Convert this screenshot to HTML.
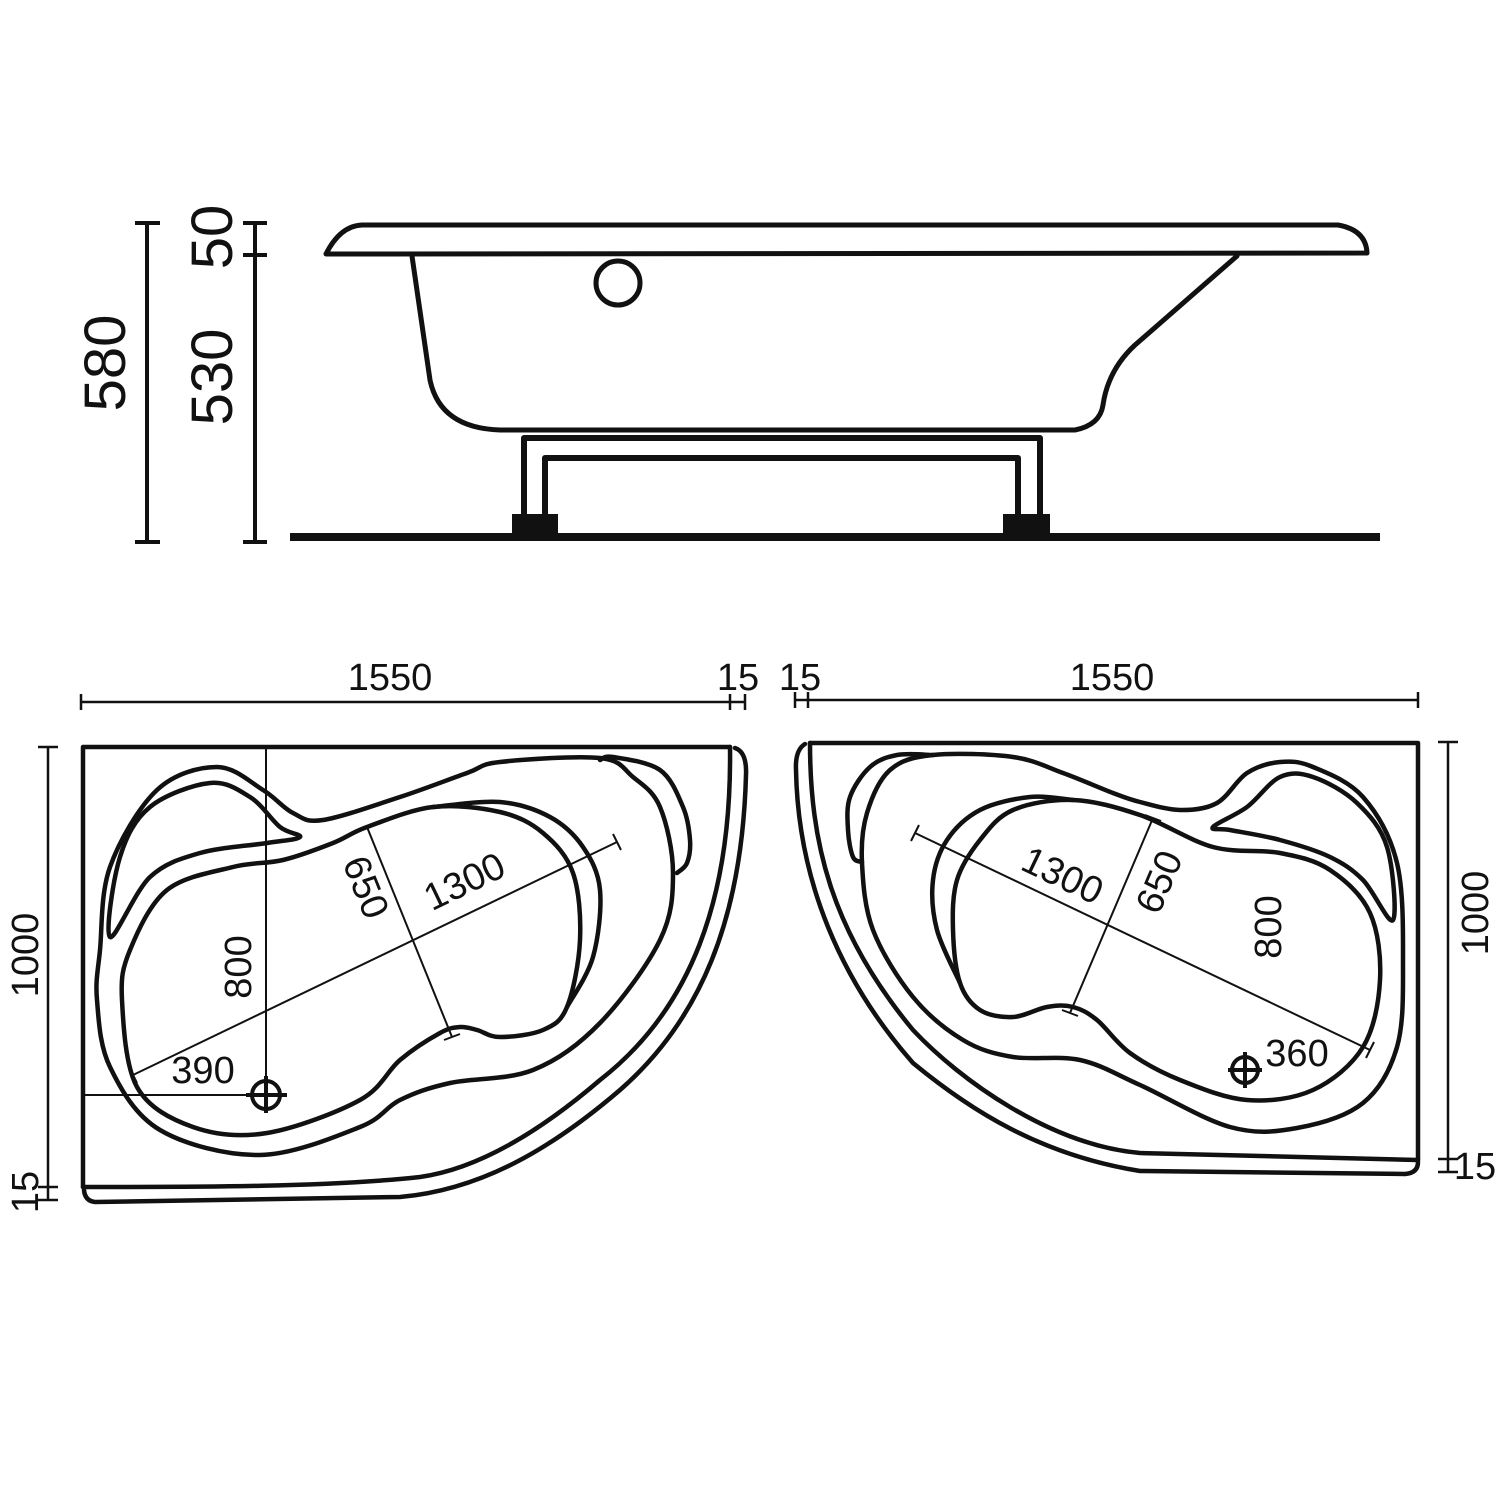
<!DOCTYPE html>
<html><head><meta charset="utf-8"><style>
html,body{margin:0;padding:0;background:#fff;}
svg{display:block}
text{font-family:"Liberation Sans",sans-serif;fill:#111;}
</style></head><body>
<svg id="s" width="1500" height="1500" viewBox="0 0 1500 1500" xmlns="http://www.w3.org/2000/svg">
<g fill="none" stroke="#111" stroke-width="5" stroke-linejoin="round" stroke-linecap="round">
<path d="M326,254 Q340,226 362,225 L1338,225 Q1366,230 1367,253 L326,254 Z"/>
<path d="M412,256 L430,380 Q440,428 500,430 L1075,430 Q1100,425 1103,405 Q1108,370 1135,345 L1237,256"/>
<circle cx="618" cy="283" r="22"/>
<path d="M524,518 L524,438 L1040,438 L1040,518" stroke-width="6"/>
<path d="M545,518 L545,458 L1018,458 L1018,518" stroke-width="6"/>
</g>
<g fill="#111">
<rect x="512" y="514" width="46" height="22"/>
<rect x="1003" y="514" width="47" height="22"/>
<rect x="290" y="533" width="1090" height="8"/>
</g>
<g stroke="#111" stroke-width="4" fill="none">
<path d="M147,223 L147,542 M135,223 L160,223 M135,542 L160,542"/>
<path d="M255,223 L255,542 M243,223 L267,223 M243,255 L267,255 M243,542 L267,542"/>
</g>
<text transform="translate(125,363) rotate(-90)" font-size="58" text-anchor="middle">580</text>
<text transform="translate(232,377) rotate(-90)" font-size="58" text-anchor="middle">530</text>
<text transform="translate(232,237) rotate(-90)" font-size="58" text-anchor="middle">50</text>

<g fill="none" stroke="#111" stroke-width="4.5" stroke-linecap="round" stroke-linejoin="round">
<path d="M83,1187 L83,747 L730,747"/>
<path d="M730,747 C732,900 690,1010 600,1080 C530,1140 470,1170 420,1177 C330,1187 200,1187 83,1187"/>
<path d="M735,748 Q747,752 746,775 C742,920 700,1020 620,1090 C550,1150 480,1190 400,1197 L95,1202 Q85,1201 84,1190"/>
<path d="M810,743 L1418,743 L1418,1160"/>
<path d="M810,743 C810,840 830,930 913,1030 C960,1080 1050,1145 1140,1153 L1418,1160"/>
<path d="M805,744 Q795,750 796,770 C798,880 840,980 913,1063 C970,1110 1040,1155 1140,1171 L1405,1174 Q1418,1173 1418,1162"/>
</g>
<g id="curves" fill="none" stroke="#111" stroke-width="4.5" stroke-linejoin="round" stroke-linecap="round"></g>

<g fill="none" stroke="#111" stroke-width="2">
<path d="M80,702 L745,702 M81,694 L81,710 M730,694 L730,710 M745,694 L745,710" stroke-width="2.5"/>
<path d="M48,747 L48,1200 M38,747 L58,747 M38,1187 L58,1187 M38,1200 L58,1200" stroke-width="2.5"/>
<path d="M133,1075 L617,842 M129,1067 L137,1083 M613,834 L621,850"/>
<path d="M367,827 L452,1037 M359,830 L375,824 M444,1040 L460,1034"/>
<path d="M266,747 L266,1113 M83,1095 L287,1095"/>
<circle cx="266" cy="1095" r="14" stroke-width="4"/>
<path d="M266,1076 L266,1113 M246,1095 L287,1095" stroke-width="4"/>
<path d="M795,700 L1418,700 M795,692 L795,708 M808,692 L808,708 M1418,692 L1418,708" stroke-width="2.5"/>
<path d="M1448,742 L1448,1172 M1438,742 L1458,742 M1438,1159 L1458,1159 M1438,1172 L1458,1172" stroke-width="2.5"/>
<path d="M915,833 L1370,1050 M919,825 L911,841 M1374,1042 L1366,1058"/>
<path d="M1153,818 L1070,1013 M1145,815 L1161,821 M1062,1010 L1078,1016"/>
<circle cx="1245" cy="1070" r="13" stroke-width="4"/>
<path d="M1245,1052 L1245,1088 M1228,1070 L1262,1070" stroke-width="4"/>
</g>
<g font-size="38">
<text x="390" y="690" text-anchor="middle">1550</text>
<text x="738" y="690" text-anchor="middle">15</text>
<text x="800" y="690" text-anchor="middle">15</text>
<text x="1112" y="690" text-anchor="middle">1550</text>
<text transform="translate(38,955) rotate(-90)" text-anchor="middle">1000</text>
<text transform="translate(38,1192) rotate(-90)" text-anchor="middle">15</text>
<text transform="translate(251,967) rotate(-90)" text-anchor="middle">800</text>
<text x="203" y="1083" text-anchor="middle">390</text>
<text transform="translate(354,892) rotate(68)" text-anchor="middle">650</text>
<text transform="translate(470,893) rotate(-25.7)" text-anchor="middle">1300</text>
<text transform="translate(1488,913) rotate(-90)" text-anchor="middle">1000</text>
<text x="1475" y="1179" text-anchor="middle">15</text>
<text transform="translate(1281,927) rotate(-90)" text-anchor="middle">800</text>
<text x="1297" y="1066" text-anchor="middle">360</text>
<text transform="translate(1171,887) rotate(-67)" text-anchor="middle">650</text>
<text transform="translate(1057,887) rotate(25.5)" text-anchor="middle">1300</text>
</g>
</svg>
<script>
function cr(p,closed){
  var n=p.length,d="M"+p[0][0]+","+p[0][1];
  var m=closed?n:n-1;
  for(var i=0;i<m;i++){
    var p0=p[(i-1+n)%n],p1=p[i],p2=p[(i+1)%n],p3=p[(i+2)%n];
    if(!closed){if(i==0)p0=p1;if(i+2>=n)p3=p2;}
    var c1=[p1[0]+(p2[0]-p0[0])/6,p1[1]+(p2[1]-p0[1])/6];
    var c2=[p2[0]-(p3[0]-p1[0])/6,p2[1]-(p3[1]-p1[1])/6];
    d+=" C"+c1[0].toFixed(1)+","+c1[1].toFixed(1)+" "+c2[0].toFixed(1)+","+c2[1].toFixed(1)+" "+p2[0]+","+p2[1];
  }
  if(closed)d+="Z";return d;
}
var shapes=[
 [[[100,950],[110,867],[157,790],[217,767],[263,790],[293,813],[323,820],[400,797],[467,773],[500,762],[600,758],[633,777],[660,807],[673,873],[660,940],[600,1023],[533,1070],[450,1083],[400,1100],[360,1127],[260,1155],[160,1130],[110,1067],[97,1000]],1],
 [[[110,937],[120,857],[150,807],[210,783],[250,797],[280,827],[300,837],[267,843],[200,853],[150,877]],1],
 [[[130,950],[167,890],[233,867],[283,860],[333,843],[367,827],[433,807],[500,812],[543,833],[573,873],[580,940],[567,1007],[543,1030],[500,1037],[477,1030],[460,1027],[440,1033],[400,1060],[360,1100],[267,1133],[193,1127],[137,1087],[122,1000]],1],
 [[[433,807],[500,802],[550,817],[583,847],[600,890],[593,957],[567,1007]],0],
 [[[600,760],[613,757],[660,770],[683,807],[690,840],[687,863],[677,873]],0],
 [[[933,755],[1013,757],[1063,773],[1113,793],[1140,802],[1180,810],[1217,803],[1247,773],[1280,762],[1313,767],[1363,797],[1397,863],[1403,963],[1397,1047],[1363,1103],[1297,1128],[1230,1127],[1140,1085],[1080,1060],[1013,1057],[963,1040],[913,997],[873,930],[862,863],[867,813],[890,770]],1],
 [[[1213,827],[1247,807],[1280,777],[1313,777],[1357,803],[1387,847],[1393,920],[1363,880],[1330,857],[1280,840],[1230,830]],1],
 [[[1073,800],[1140,815],[1213,847],[1280,853],[1330,870],[1370,913],[1380,980],[1363,1047],[1313,1090],[1247,1100],[1180,1080],[1130,1053],[1097,1020],[1073,1007],[1047,1007],[1013,1017],[980,1010],[960,983],[953,930],[957,880],[980,840],[1013,810]],1],
 [[[960,983],[937,930],[933,880],[947,840],[980,810],[1030,797],[1073,800]],0],
 [[[933,755],[897,755],[870,767],[850,797],[848,830],[853,857],[862,862]],0]
];
var g=document.getElementById("curves");
shapes.forEach(function(s){
  var e=document.createElementNS("http://www.w3.org/2000/svg","path");
  e.setAttribute("d",cr(s[0],s[1]));g.appendChild(e);
});
</script>
</body></html>
